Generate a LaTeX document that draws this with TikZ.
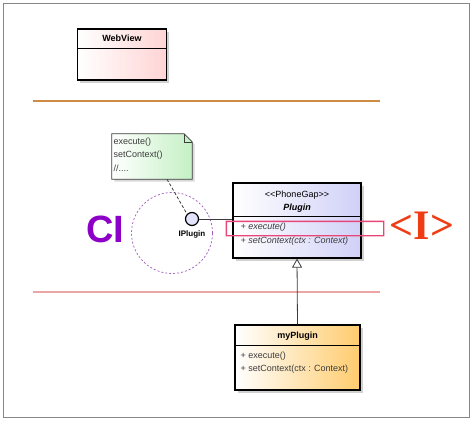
\documentclass[tikz,border=0pt]{standalone}
\usepackage{fontspec}
\setmainfont{Liberation Sans}
\newfontfamily\serifbold{Liberation Serif Bold}
\usetikzlibrary{arrows.meta,calc,shadows}
\definecolor{frameGray}{RGB}{135,135,135}
\definecolor{webPink}{RGB}{255,212,212}
\definecolor{plugLav}{RGB}{208,208,248}
\definecolor{myOrange}{RGB}{255,204,110}
\definecolor{noteGreen}{RGB}{196,240,196}
\definecolor{opGray}{RGB}{60,60,60}
\definecolor{sepOrange}{RGB}{205,140,70}
\definecolor{sepPink}{RGB}{235,165,165}
\definecolor{ciPurple}{RGB}{140,0,200}
\definecolor{circPurple}{RGB}{160,90,190}
\definecolor{iRed}{RGB}{240,60,20}
\definecolor{hiRed}{RGB}{232,70,120}
\begin{document}
\begin{tikzpicture}[x=1pt,y=-1pt,
  every node/.style={inner sep=0pt, font=\fontsize{9}{11}\selectfont},
  umlbox/.style={draw=black, line width=1.2pt, rectangle,
    drop shadow={shadow xshift=2.5pt, shadow yshift=-2.5pt, fill=black, opacity=0.18}},
  oplabel/.style={anchor=west, text=opGray},
  boxtitle/.style={font=\fontsize{9}{11}\selectfont\bfseries},
  sepline/.style={line width=0.8pt, black},
  conn/.style={draw=opGray, line width=0.8pt}]
\useasboundingbox (0,0) rectangle (474,423);
\draw[frameGray, line width=0.9pt] (3.5,3.5) rectangle (469.5,417.5);

% WebView
\node[umlbox, left color=white, right color=webPink, minimum width=89, minimum height=51] (webview) at (122,54.5) {};
\draw[sepline] ($(webview.north west)+(0,20)$) -- ($(webview.north east)+(0,20)$);
\node[boxtitle] (webviewname) at ($(webview.north)+(0,10)$) {WebView};

% separators
\draw[sepOrange, line width=1.5pt] (33,101) -- (380,101);
\draw[sepPink, line width=1.5pt] (33,292) -- (380,292);

% Plugin
\node[umlbox, left color=white, right color=plugLav, minimum width=128, minimum height=75] (plugin) at (297,220.5) {};
\draw[sepline] ($(plugin.north west)+(0,34)$) -- ($(plugin.north east)+(0,34)$);
\node (stereo) at ($(plugin.north)+(0,13)$) {<{}<PhoneGap>{}>};
\node[font=\fontsize{9}{11}\selectfont\bfseries\itshape] (pluginname) at ($(plugin.north)+(0,26)$) {Plugin};
\node[oplabel, font=\fontsize{9}{11}\selectfont\itshape] (pexec) at ($(plugin.north west)+(8,45)$) {+ execute()};
\node[oplabel, font=\fontsize{9}{11}\selectfont\itshape] (pctx) at ($(plugin.north west)+(8,59)$) {+ setContext(ctx : Context)};

% myPlugin
\node[umlbox, left color=white, right color=myOrange, minimum width=125, minimum height=65] (myplugin) at (297.5,357.5) {};
\draw[sepline] ($(myplugin.north west)+(0,21)$) -- ($(myplugin.north east)+(0,21)$);
\node[boxtitle] (mypluginname) at ($(myplugin.north)+(0,12)$) {myPlugin};
\node[oplabel] (mexec) at ($(myplugin.north west)+(6,32)$) {+ execute()};
\node[oplabel] (mctx) at ($(myplugin.north west)+(6,45)$) {+ setContext(ctx : Context)};

% generalization
\draw[conn, -{Triangle[length=9pt,width=10pt,fill=white,line width=0.8pt]}] (myplugin.north) -- (plugin.south);

% dashed circle
\node[draw=circPurple, dash pattern=on 2pt off 2pt, line width=0.7pt, circle, minimum size=81] (cicircle) at (172,233) {};

% lollipop
\node[draw=black, line width=1.2pt, circle, fill=plugLav!60, minimum size=13] (lol) at (192,219) {};
\node[font=\fontsize{8}{10}\selectfont\bfseries] (iplugin) at (192,234) {IPlugin};
\draw[conn] (lol.east) -- (lol.east -| plugin.west);

% note
\node[minimum width=80, minimum height=45] (note) at (152,156.5) {};
\fill[black, opacity=0.15] ($(note.north west)+(2.5,2.5)$) -- ($(note.north east)+(-5.5,2.5)$) -- ($(note.north east)+(2.5,10.5)$) -- ($(note.south east)+(2.5,2.5)$) -- ($(note.south west)+(2.5,2.5)$) -- cycle;
\shade[left color=white, right color=noteGreen] (note.north west) -- ($(note.north east)+(-8,0)$) -- ($(note.north east)+(0,8)$) -- (note.south east) -- (note.south west) -- cycle;
\draw[opGray, line width=0.8pt] (note.north west) -- ($(note.north east)+(-8,0)$) -- ($(note.north east)+(0,8)$) -- (note.south east) -- (note.south west) -- cycle;
\draw[opGray, line width=0.6pt] ($(note.north east)+(-8,0)$) -- ($(note.north east)+(-8,8)$) -- ($(note.north east)+(0,8)$);
\node[oplabel] (n1) at ($(note.north west)+(1.5,8)$) {execute()};
\node[oplabel] (n2) at ($(note.north west)+(1.5,21)$) {setContext()};
\node[oplabel] (n3) at ($(note.north west)+(1.5,34)$) {//....};
\draw[conn, dash pattern=on 3pt off 2pt] ([xshift=15pt]note.south) -- (lol.north west);

% big labels
\node[text=ciPurple, font=\fontsize{38}{40}\selectfont\bfseries] (ci) at (105,229) {CI};
\node[text=iRed, font=\serifbold\fontsize{42}{44}\selectfont] (ilabel) at (422,226) {{<}I{>}};

% highlight (drawn last, as a filled frame)
\node[minimum width=157, minimum height=14] (hilite) at (305,228.5) {};
\fill[hiRed, even odd rule]
  ($(hilite.north west)+(-0.7,-0.7)$) rectangle ($(hilite.south east)+(0.7,0.7)$)
  ($(hilite.north west)+(0.7,0.7)$) rectangle ($(hilite.south east)+(-0.7,-0.7)$);
\end{tikzpicture}
\end{document}
